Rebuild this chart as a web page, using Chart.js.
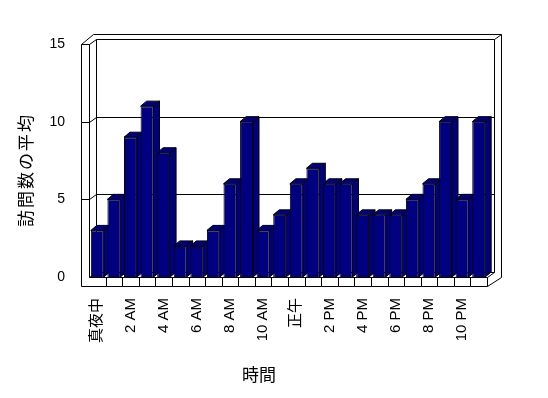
<!DOCTYPE html>
<html><head><meta charset="utf-8">
<script src="https://cdn.jsdelivr.net/npm/chart.js@4.4.1/dist/chart.umd.min.js"></script>
<style>html,body{margin:0;padding:0;background:#fff}canvas{display:block}</style>
</head><body>
<canvas id="c" width="548" height="398"></canvas>
<script>
const hours = ['真夜中','1 AM','2 AM','3 AM','4 AM','5 AM','6 AM','7 AM','8 AM','9 AM','10 AM','11 AM','正午','1 PM','2 PM','3 PM','4 PM','5 PM','6 PM','7 PM','8 PM','9 PM','10 PM','11 PM'];
const visits = [3,5,9,11,8,2,2,3,6,10,3,4,6,7,6,6,4,4,4,5,6,10,5,10];
const yTickValues = [0,5,10,15];
const yTitle = '訪問数の平均';
const xTitle = '時間';

const FONT = '"Liberation Sans", "Noto Sans CJK JP", sans-serif';
const CJK = '"Noto Sans CJK JP", sans-serif';
const NAVY = '#000080';

function line(ctx, pts) {
  ctx.beginPath();
  ctx.moveTo(pts[0][0], pts[0][1]);
  for (let i = 1; i < pts.length; i++) ctx.lineTo(pts[i][0], pts[i][1]);
  ctx.stroke();
}

const frame3d = {
  id: 'frame3d',
  beforeDatasetsDraw(chart) {
    const ctx = chart.ctx;
    const xs = chart.scales.x, ys = chart.scales.y;
    const L = Math.round(chart.chartArea.left) + 0.5;
    const R = Math.round(chart.chartArea.right) + 0.5;
    const B = Math.round(ys.getPixelForValue(0)) + 0.5;
    const T = Math.round(ys.getPixelForValue(15)) + 0.5;
    const DX = 7, DY = 5, TH = 8, FT = 9, OUT = 5;
    ctx.save();
    ctx.strokeStyle = '#000';
    ctx.lineWidth = 1;
    // back wall outer
    line(ctx, [[L + 4, T - DY - OUT], [R + DX + 7, T - DY - OUT], [R + DX + 7, B]]);
    line(ctx, [[R + DX, T - DY], [R + DX + 7, T - DY - OUT]]);
    line(ctx, [[R + DX, T - DY], [R + DX, B - DY]]);
    // left wall
    line(ctx, [[L - TH, B + FT], [L - TH, T], [L, T], [L, B]]);
    line(ctx, [[L - TH, T], [L + 4, T - DY - OUT]]);
    line(ctx, [[L + DX, T - DY], [L + DX, B - DY]]);
    // grid lines
    yTickValues.forEach(v => {
      const y = Math.round(ys.getPixelForValue(v)) + 0.5;
      if (v > 0 && v < 15) line(ctx, [[L - TH, y], [L, y]]);
      line(ctx, [[L, y], [L + DX, y - DY], [R + DX, y - DY]]);
    });
    // floor
    line(ctx, [[L, B], [R, B], [R, B + FT], [L - TH, B + FT]]);
    line(ctx, [[R, B], [R + DX, B - DY]]);
    line(ctx, [[R, B + FT], [R + DX + 7, B]]);
    const n = hours.length;
    for (let i = 1; i < n; i++) {
      const xb = Math.round((xs.getPixelForValue(i - 1) + xs.getPixelForValue(i)) / 2) + 0.5;
      line(ctx, [[xb, B], [xb, B + FT]]);
    }
    // 3D sides and tops of bars
    const bdx = 6, bdy = 5;
    const meta = chart.getDatasetMeta(0);
    meta.data.forEach(bar => {
      const p = bar.getProps(['x', 'y', 'base', 'width'], true);
      const l = p.x - p.width / 2, r = p.x + p.width / 2, t = p.y, b = p.base;
      ctx.fillStyle = NAVY;
      ctx.beginPath();
      ctx.moveTo(r, t); ctx.lineTo(r + bdx, t - bdy); ctx.lineTo(r + bdx, b - bdy); ctx.lineTo(r, b); ctx.closePath();
      ctx.fill(); ctx.stroke();
      ctx.beginPath();
      ctx.moveTo(l, t); ctx.lineTo(l + bdx, t - bdy); ctx.lineTo(r + bdx, t - bdy); ctx.lineTo(r, t); ctx.closePath();
      ctx.fill(); ctx.stroke();
    });
    ctx.restore();
  },
  afterDraw(chart) {
    const ctx = chart.ctx;
    ctx.save();
    ctx.fillStyle = '#000';
    ctx.font = '17px ' + CJK;
    ctx.textAlign = 'center';
    ctx.textBaseline = 'middle';
    ctx.fillText(xTitle, 259, 375);
    ctx.translate(26, 170);
    ctx.rotate(-Math.PI / 2);
    try { ctx.letterSpacing = '2px'; } catch (e) {}
    ctx.fillText(yTitle, 0, 0);
    ctx.restore();
  }
};

new Chart(document.getElementById('c'), {
  type: 'bar',
  data: {
    labels: hours,
    datasets: [{
      data: visits,
      backgroundColor: NAVY,
      borderColor: '#000',
      borderWidth: 1,
      categoryPercentage: 1,
      barPercentage: 0.78
    }]
  },
  options: {
    responsive: false,
    animation: false,
    devicePixelRatio: 1,
    layout: { padding: { left: 0, top: 44, right: 61, bottom: 0 } },
    plugins: { legend: { display: false }, tooltip: { enabled: false } },
    scales: {
      x: {
        grid: { display: false, drawTicks: false },
        border: { display: false },
        ticks: {
          color: '#000',
          font: { family: FONT, size: 15 },
          padding: 21,
          minRotation: 90,
          maxRotation: 90,
          autoSkip: false,
          callback: (v, i) => (i % 2 === 0 ? hours[i] : '')
        },
        afterFit: s => { s.height = 121; }
      },
      y: {
        min: 0,
        max: 15,
        grid: { display: false, drawTicks: false },
        border: { display: false },
        ticks: {
          color: '#000',
          font: { family: FONT, size: 14 },
          padding: 24,
          stepSize: 5
        },
        afterFit: s => { s.width = 89; }
      }
    }
  },
  plugins: [frame3d]
});
</script>
</body></html>
